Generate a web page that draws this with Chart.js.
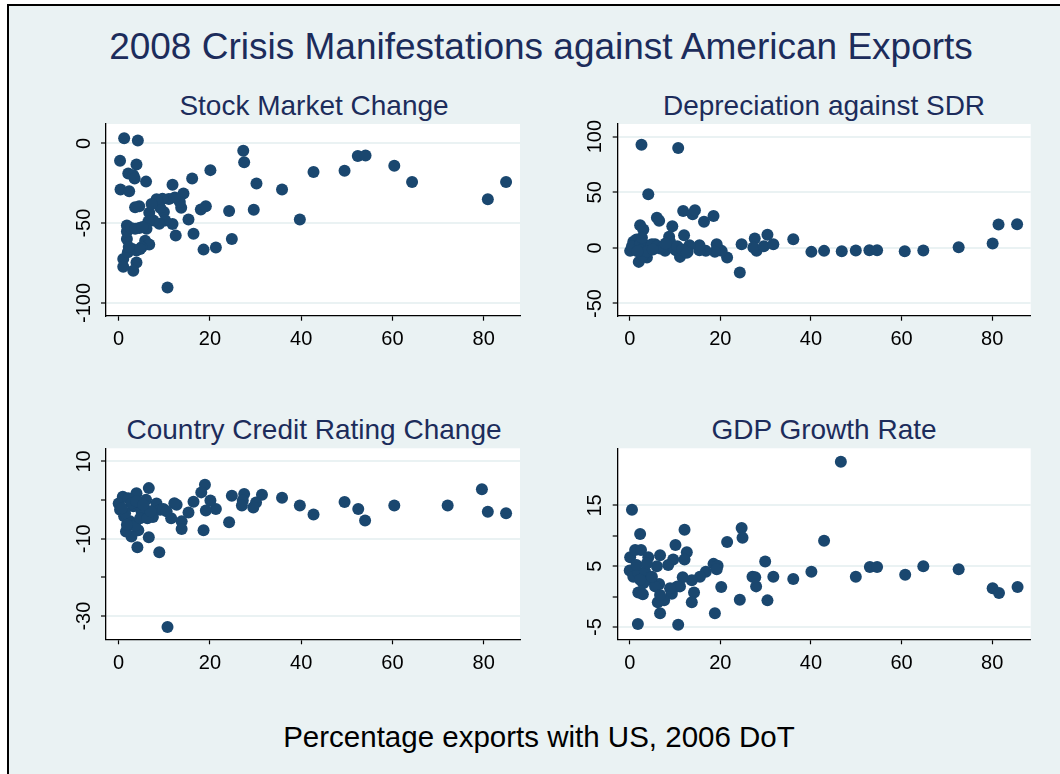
<!DOCTYPE html>
<html>
<head>
<meta charset="utf-8">
<script src="https://cdn.jsdelivr.net/npm/chart.js@4"></script>
<style>
  body { margin: 0; width: 1060px; height: 774px; overflow: hidden; background: #fff;
         font-family: "Liberation Sans", Arial, sans-serif; position: relative; }
  #frame { position: absolute; left: 7px; top: 4px; width: 1060px; height: 780px;
           border-left: 2px solid #000; border-top: 2px solid #000; background: #eaf2f3; }
  .t { position: absolute; white-space: nowrap; transform: translateX(-50%); color: #1c2c5b; line-height: 1; }
  canvas { position: absolute; }
</style>
</head>
<body>
<div id="frame"></div>
<div class="t" style="left:541px; top:28px; font-size:37px;">2008 Crisis Manifestations against American Exports</div>
<div class="t" style="left:314px; top:92px; font-size:28px;">Stock Market Change</div>
<div class="t" style="left:824px; top:92px; font-size:28px;">Depreciation against SDR</div>
<div class="t" style="left:314px; top:416px; font-size:28px;">Country Credit Rating Change</div>
<div class="t" style="left:824px; top:416px; font-size:28px;">GDP Growth Rate</div>
<div class="t" style="left:539px; top:722px; font-size:29.5px; color:#000;">Percentage exports with US, 2006 DoT</div>

<canvas id="c1" width="480" height="254" style="left:50px; top:116px;"></canvas>
<canvas id="c2" width="480" height="254" style="left:560px; top:116px;"></canvas>
<canvas id="c3" width="480" height="254" style="left:50px; top:440px;"></canvas>
<canvas id="c4" width="480" height="254" style="left:560px; top:440px;"></canvas>

<script>
// x axis: share of exports going to the US (%)
const xTicks = [0, 20, 40, 60, 80];

// Stock market change
const stockX = [1.2, 4.2, 0.3, 3.9, 2.1, 3.2, 3.5, 6, 0.4, 2.3, 11.8, 16.1, 20.1, 27.3, 27.5, 30.2, 35.8, 42.7, 49.5, 52.4,
  54.1, 60.4, 64.3, 84.9, 80.9, 39.7, 29.6, 24.2, 24.8, 21.3, 18.6, 18, 19.1, 16.4, 15.3, 14.2, 13.7, 13.4, 12.5, 11.8,
  11, 10.7, 9.6, 9.9, 10.2, 8.5, 9.1, 8.9, 8.3, 7.6, 6.7, 6.5, 6.1, 5.8, 6.7, 4.5, 3.6, 4.5, 5, 3.9,
  3.2, 1, 1, 2, 3, 3.9, 1.8, 1.8, 1.8, 2.7, 3.6, 4.7, 7.2, 12.3, 5.2, 2.2];
const stockY = [3.1, 1.7, -10.9, -13.2, -18.9, -20, -22, -24, -29, -30, -26, -22, -16.8, -4.6, -11.8, -25.2, -29, -17.9, -17.2, -8,
  -7.6, -14.1, -24.2, -24.2, -35.1, -47.7, -41.6, -42.4, -60, -65.3, -66.6, -41.4, -39.5, -56.7, -47.7, -31.5, -40.3, -36.8, -57.8, -50.6,
  -34.9, -90.3, -34.7, -43.1, -48.3, -36.6, -40.3, -50.4, -35.1, -48.3, -43.5, -49, -53.6, -61, -63.4, -39.5, -40, -53, -65.1, -74.6,
  -79.8, -72.5, -77.3, -68.3, -66.2, -67.2, -59.9, -55.3, -51.5, -53, -53.6, -66.2, -38, -34, -52.5, -64.9];
const stockTicks = [0, -50, -100];
const stockLabels = [0, -50, -100];

// Depreciation against SDR
const sdrX = [2.6, 10.7, 4.1, 6, 6.5, 2.3, 3, 9.4, 11.8, 13.9, 14.4, 16.4, 18.5, 12, 8.7, 36.1, 30.4, 27.6, 24.7, 28,
  27.3, 29.6, 31.7, 24.3, 21.5, 20.3, 19.2, 18.8, 16.8, 15.4, 15.4, 13.2, 12.8, 11.1, 10.2, 8.9, 7.8, 6.7, 5.6, 4.3,
  3.8, 2, 2.9, 0.8, 0.1, 1.5, 1, 40.1, 42.9, 46.8, 49.9, 52.9, 54.6, 60.7, 64.8, 72.6, 80.1, 81.4, 85.5,
  0.5, 2.3, 3.4, 4.9, 2.5, 3.8, 6, 7.5, 9.8, 10.5, 11.6, 12.6, 1.7, 2.7, 7.9, 5.1];
const sdrY = [92.8, 89.8, 48.2, 27.2, 24.3, 20.4, 16.5, 19.5, 33.2, 30.2, 33.8, 23.4, 28.7, 11.4, 9.9, 7.8, 11.7, 8.4, 3.3, -2.7,
  0.3, 1.5, 3.3, -22.2, -8.7, -2.7, 3.3, -3.6, -2.7, -2.1, 2.4, 2.4, -3.6, -8.1, -2.1, 5.4, -2.7, -0.6, 3.3, 0,
  -8.7, -12.6, -6.6, 5.4, -2.7, 7.5, 0.9, -3.6, -2.7, -3, -2.4, -2.1, -2.1, -3, -2.4, 0.6, 3.9, 21, 21.3,
  1.5, 3.3, 2.4, 3.3, -2.1, -3.6, 1.5, 1.5, -0.6, 1.5, -1.5, -4.5, -3, 9, 4, -1.5];
const sdrTicks = [100, 50, 0, -50];
const sdrLabels = [100, 50, 0, -50];

// Country credit rating change
const creditX = [84.9, 80.9, 79.6, 72.1, 60.4, 54, 52.5, 49.5, 42.7, 39.7, 35.8, 31.4, 30.1, 29.5, 27.5, 27.2, 27, 24.8, 24.2, 21.3,
  20.1, 19.1, 18.9, 18.1, 18.6, 16.4, 15.3, 13.8, 13.8, 12.7, 12.2, 11.5, 10.7, 8.9, 8.3, 9.1, 7.5, 6.6, 6.6, 6,
  5.8, 4.1, 3.9, 4.3, 2.8, 1.6, 0.9, 0, 0.3, 1.2, 2.5, 3.2, 5, 2.1, 2.8, 1.4, 3.6, 4.7, 6.3, 7,
  9.8, 10.5, 3.9, 5.4, 1.8, 0.7];
const creditY = [-3.4, -3, 2.8, -1.4, -1.4, -5.3, -2.3, -0.5, -3.7, -1.4, 0.6, 1.4, -0.6, -1.9, 1.6, -0.1, -1.4, 1.1, -5.7, -2.3,
  -0.1, -2.7, 4, 2, -7.8, -0.4, -3.2, -5.5, -7.5, -1.2, -0.8, -4.7, -32.8, -13.5, -0.9, -2.5, -4.4, 3.1, -9.6, 0.1,
  -2.5, -12.2, 1.8, -7.8, -9.4, -8.1, 0.9, -0.9, -2.5, -4.2, -5.5, -1.6, -2.9, 0.5, -0.8, -3.4, -6.6, -4.7, -4.7, -2.9,
  -2.3, -2.9, -0.3, -1.2, -6.4, -2.1];
const creditTicks = [10, 0, -10, -20, -30];
const creditLabels = [10, -10, -30];

// GDP growth rate
const gdpX = [46.6, 0.5, 2.3, 12.1, 24.7, 24.9, 21.5, 42.9, 10.1, 12.6, 12.1, 9.6, 8.5, 6.7, 6, 0.1, 1.2, 2.5, 4.1, 0,
  18.5, 19.4, 19.2, 29.9, 16.8, 15.5, 13.7, 11.7, 11.1, 14.2, 13.7, 10.5, 9.3, 8.9, 7.6, 6.5, 6.7, 6.2, 1.8, 10.7,
  18.8, 20.2, 24.3, 27.1, 27.9, 27.7, 30.4, 31.7, 36.1, 40.1, 49.9, 53, 54.6, 60.8, 64.8, 72.6, 80.1, 81.5, 85.6,
  1.9, 2.9, 0.8, 1.9, 3.4, 4.5, 3, 5.6, 6.7, 1.5, 3.8, 4.9, 2.3];
const gdpY = [22.2, 14.3, 10.3, 11, 11.3, 9.7, 9, 9.2, 8.5, 7.3, 6.1, 6.1, 5.2, 6.8, 5, 6.5, 7.7, 7.7, 6.5, 4.3,
  5.4, 5.1, 4.5, 5.8, 4.1, 3.3, 2.7, 3.2, 1.7, 0.7, -0.9, 1.7, 0.5, 1.4, -0.6, 2.1, -2.7, -0.9, -4.5, -4.6,
  -2.7, 1.6, -0.5, 3.3, 1.7, 3.2, -0.6, 3.3, 2.9, 4.1, 3.3, 4.9, 4.9, 3.6, 5, 4.5, 1.4, 0.6, 1.6,
  0.7, 0.4, 3.3, 3.9, 4.1, 2.8, 2.2, 1.7, 0.3, 5.2, 5.5, 3.3, 2.8];
const gdpTicks = [15, 10, 5, 0, -5];
const gdpLabels = [15, 5, -5];

const navy = '#1a476f';
const bgTint = '#eaf2f3';
const tickFont = { family: '"Liberation Sans", Arial, sans-serif', size: 20 };

// white plot region behind the points
const plotRegion = {
  id: 'plotRegion',
  beforeDraw(chart) {
    const a = chart.chartArea, ctx = chart.ctx;
    ctx.save();
    ctx.fillStyle = '#fff';
    ctx.fillRect(a.left, a.top, a.right - a.left, a.bottom - a.top);
    ctx.restore();
  }
};

// Stata style vertical tick labels (reading bottom to top)
const rotatedYLabels = {
  id: 'rotatedYLabels',
  afterDraw(chart, args, opts) {
    const s = chart.scales.y, ctx = chart.ctx;
    ctx.save();
    ctx.font = tickFont.size + 'px ' + tickFont.family;
    ctx.fillStyle = '#000';
    ctx.textAlign = 'center';
    ctx.textBaseline = 'middle';
    opts.labels.forEach(v => {
      ctx.save();
      ctx.translate(chart.chartArea.left - 22, s.getPixelForValue(v));
      ctx.rotate(-Math.PI / 2);
      ctx.fillText(String(v), 0, 0);
      ctx.restore();
    });
    ctx.restore();
  }
};

function makePanel(id, xs, ys, p) {
  const pts = xs.map((x, i) => ({ x: x, y: ys[i] }));
  return new Chart(document.getElementById(id), {
    type: 'scatter',
    data: {
      datasets: [{
        data: pts,
        backgroundColor: navy,
        borderWidth: 0,
        pointRadius: 6,
        pointHoverRadius: 6
      }]
    },
    options: {
      responsive: false,
      animation: false,
      events: [],
      layout: { padding: { left: 0, top: p.top, right: p.right, bottom: 0 } },
      plugins: {
        legend: { display: false },
        tooltip: { enabled: false },
        rotatedYLabels: { labels: p.labels }
      },
      scales: {
        x: {
          type: 'linear',
          min: p.xmin, max: p.xmax,
          afterBuildTicks: s => { s.ticks = xTicks.map(v => ({ value: v })); },
          afterFit: s => { s.height = 254 - p.bottom; },
          ticks: { color: '#000', font: tickFont, padding: 7, maxRotation: 0 },
          grid: { drawOnChartArea: false, tickLength: 5, tickColor: '#000', tickWidth: 1.2 },
          border: { color: '#000', width: 1.3 }
        },
        y: {
          type: 'linear',
          min: p.ymin, max: p.ymax,
          afterBuildTicks: s => { s.ticks = p.ticks.map(v => ({ value: v })); },
          afterFit: s => { s.width = p.left; },
          ticks: { display: false },
          grid: {
            color: c => (c.tick && p.labels.includes(c.tick.value)) ? bgTint : 'rgba(0,0,0,0)',
            lineWidth: 2,
            tickLength: 5, tickColor: '#000', tickWidth: 1.2
          },
          border: { color: '#000', width: 1.3 }
        }
      }
    },
    plugins: [plotRegion, rotatedYLabels]
  });
}

makePanel('c1', stockX, stockY, { left: 56, top: 8, right: 10, bottom: 199.7,
  xmin: -2.78, xmax: 87.95, ymin: -108, ymax: 12.1, ticks: stockTicks, labels: stockLabels });
makePanel('c2', sdrX, sdrY, { left: 57.7, top: 8, right: 9.3, bottom: 199.7,
  xmin: -2.65, xmax: 88.5, ymin: -61, ymax: 111.4, ticks: sdrTicks, labels: sdrLabels });
makePanel('c3', creditX, creditY, { left: 56, top: 8.3, right: 10, bottom: 199.3,
  xmin: -2.78, xmax: 87.95, ymin: -36, ymax: 13.4, ticks: creditTicks, labels: creditLabels });
makePanel('c4', gdpX, gdpY, { left: 57.7, top: 8.3, right: 9.3, bottom: 199.3,
  xmin: -2.65, xmax: 88.5, ymin: -7, ymax: 24.4, ticks: gdpTicks, labels: gdpLabels });
</script>
</body>
</html>
